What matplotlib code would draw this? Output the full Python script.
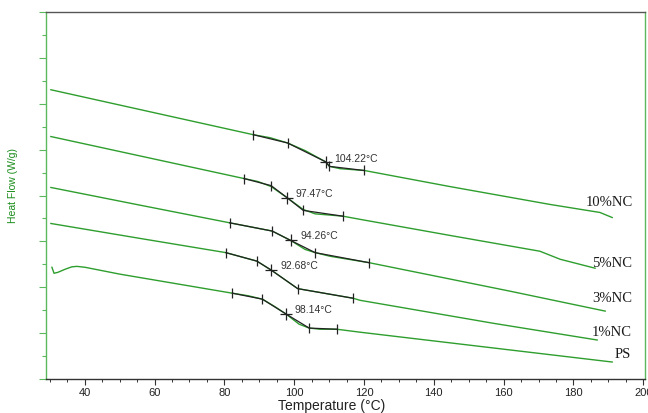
import matplotlib
matplotlib.use("Agg")
import matplotlib.pyplot as plt
from matplotlib.ticker import MultipleLocator, NullFormatter

# curvas DSC (temperatura em °C, fluxo de calor em unidades arbitrarias)
t_10 = [30.3, 58.7, 88.3, 93.1, 98.1, 103.1, 109.0, 110.1, 113.1, 120.1, 144.6, 173.3, 187.6, 191.1]
hf_10 = [12.61, 11.65, 10.65, 10.52, 10.29, 9.96, 9.47, 9.27, 9.17, 9.09, 8.39, 7.61, 7.26, 7.04]

t_5 = [30.3, 58.7, 85.6, 89.6, 93.4, 98.0, 102.6, 106.0, 113.9, 118.9, 144.6, 170.4, 176.2, 186.2]
hf_5 = [10.57, 9.63, 8.74, 8.61, 8.39, 7.90, 7.39, 7.20, 7.10, 6.96, 6.26, 5.57, 5.22, 4.83]

t_3 = [30.3, 55.8, 81.5, 87.6, 93.7, 99.0, 103.1, 106.0, 110.3, 121.5, 161.8, 189.1]
hf_3 = [8.35, 7.58, 6.81, 6.63, 6.45, 6.04, 5.65, 5.51, 5.35, 5.07, 3.83, 2.96]

t_1 = [30.3, 55.8, 80.4, 89.3, 93.4, 101.0, 116.9, 118.9, 157.0, 186.8]
hf_1 = [6.78, 6.13, 5.51, 5.14, 4.75, 3.94, 3.52, 3.43, 2.43, 1.70]

t_ps = [30.6, 31.2, 32.3, 34.3, 36.3, 37.8, 40.1, 50.1, 82.3, 86.8, 90.9, 94.5, 97.7,
        101.4, 104.3, 107.4, 112.2, 118.9, 156.1, 191.1]
hf_ps = [4.87, 4.61, 4.65, 4.78, 4.89, 4.91, 4.87, 4.57, 3.74, 3.63, 3.48, 3.15, 2.83,
         2.39, 2.22, 2.17, 2.17, 2.04, 1.37, 0.74]

# pontos da analise de Tg (inicio, onset, meio, fim, final)
tg_t = [[88.3, 98.1, 109.0, 110.1, 120.1],
        [85.6, 93.4, 98.0, 102.6, 113.9],
        [81.5, 93.7, 99.0, 106.0, 121.5],
        [80.4, 89.3, 93.4, 101.0, 116.9],
        [82.3, 90.9, 97.7, 104.3, 112.2]]
tg_hf = [[10.65, 10.29, 9.47, 9.27, 9.09],
         [8.74, 8.43, 7.90, 7.35, 7.10],
         [6.81, 6.45, 6.04, 5.51, 5.07],
         [5.51, 5.14, 4.75, 3.94, 3.52],
         [3.74, 3.48, 2.83, 2.22, 2.17]]

tg_labels = ["104.22°C", "97.47°C", "94.26°C", "92.68°C", "98.14°C"]
tg_label_t = [111.4, 100.5, 101.7, 96.2, 100.2]
tg_label_hf = [9.65, 8.13, 6.26, 4.96, 3.07]

amostras = ["10%NC", "5%NC", "3%NC", "1%NC", "PS"]
amostra_t = [197.1, 196.8, 196.8, 196.8, 196.4]
amostra_hf = [7.74, 5.09, 3.57, 2.09, 1.09]

verde = '#2e9e2e'
verde_eixo = '#5cb85c'

fig = plt.figure(figsize=(6.48, 4.14), dpi=100)
ax = fig.add_axes([46 / 648, 34 / 414, 599 / 648, 367 / 414])

curvas = [(t_10, hf_10), (t_5, hf_5), (t_3, hf_3), (t_1, hf_1), (t_ps, hf_ps)]
for t, hf in curvas:
    ax.plot(t, hf, color=verde, lw=1.0)

# linhas da analise sobre as curvas
for i in range(len(tg_t)):
    ax.plot(tg_t[i], tg_hf[i], color='#222222', lw=0.9)
    xs = tg_t[i][:2] + tg_t[i][3:]
    ys = tg_hf[i][:2] + tg_hf[i][3:]
    ax.plot(xs, ys, ls='none', marker='|', ms=7, mew=0.9, color='#222222')
    ax.plot(tg_t[i][2], tg_hf[i][2], ls='none', marker='+', ms=9, mew=0.9, color='#222222')
    ax.text(tg_label_t[i], tg_label_hf[i], tg_labels[i], fontsize=7.5,
            family='Liberation Sans', color='#333333', ha='left', va='center')

for nome, x, y in zip(amostras, amostra_t, amostra_hf):
    ax.text(x, y, nome, fontsize=10.5, family='Liberation Serif', color='#1a1a1a',
            ha='right', va='center')

ax.set_xlim(28.9, 200.5)
ax.set_ylim(0, 16)

ax.xaxis.set_major_locator(MultipleLocator(20))
ax.xaxis.set_minor_locator(MultipleLocator(5))
ax.yaxis.set_major_locator(MultipleLocator(2))
ax.yaxis.set_minor_locator(MultipleLocator(1))
ax.yaxis.set_major_formatter(NullFormatter())

ax.tick_params(axis='x', which='major', length=4, width=0.8, colors='#333333',
               labelsize=8, pad=2)
ax.tick_params(axis='x', which='minor', length=2, width=0.7, colors='#333333')
ax.tick_params(axis='y', which='major', length=5, width=0.8, colors=verde_eixo)
ax.tick_params(axis='y', which='minor', length=3, width=0.8, colors=verde_eixo)
for lbl in ax.get_xticklabels():
    lbl.set_family('Liberation Sans')
    lbl.set_color('#222222')

ax.spines['left'].set_color(verde_eixo)
ax.spines['right'].set_color(verde_eixo)
ax.spines['top'].set_color('#555555')
ax.spines['bottom'].set_color('#333333')
for s in ax.spines.values():
    s.set_linewidth(1.0)

ax.set_xlabel("Temperature (°C)", fontsize=10, family='Liberation Sans', color='#222222')
ax.xaxis.set_label_coords(0.477, -0.052)
ax.set_ylabel("Heat Flow (W/g)", fontsize=7.5, family='Liberation Sans', color='#1a8c1a')
ax.yaxis.set_label_coords(-0.047, 0.53)

fig.savefig("out.png", dpi=100)
